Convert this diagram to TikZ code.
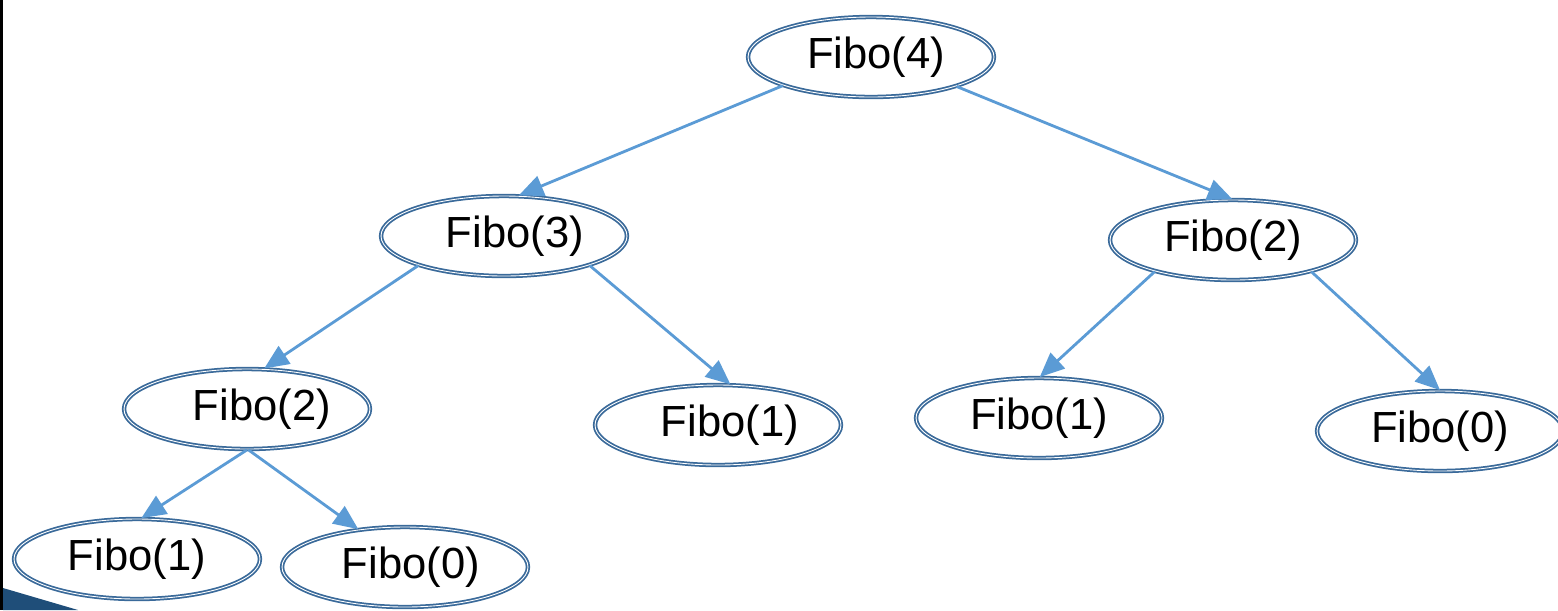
\documentclass[tikz,border=0pt]{standalone}
\usepackage{fontspec}
\setmainfont{Liberation Sans}
\usetikzlibrary{shapes.geometric,arrows.meta}
\definecolor{fiboline}{HTML}{3A6A9A}
\definecolor{fiboarrow}{HTML}{5B9BD5}
\definecolor{fibocorner}{HTML}{1F4E79}
\begin{document}
\begin{tikzpicture}[x=0.02cm,y=-0.02cm]
            \tikzstyle{every node}+=[inner sep=0pt]
            \tikzstyle{fibo}=[ellipse, draw=fiboline, double=white, double distance=0.5pt, line width=1pt, minimum width=4.92cm, minimum height=1.6cm, font=\fontsize{24.8}{29}\selectfont]
            \tikzstyle{call}=[draw=fiboarrow, line width=1.6pt, -{Triangle[length=14pt,width=12pt]}]
            \useasboundingbox (0,0) rectangle (1558,610);
            \fill [fibocorner] (3,588) -- (78,610) -- (3,610) -- cycle;
            \draw [black, line width=1.7pt] (1.5,0) -- (1.5,610);
            \node [fibo] (f4) at (871,57) {\hspace*{0.2cm}Fibo(4)};
            \node [fibo] (f3) at (504,236) {\hspace*{0.44cm}Fibo(3)};
            \node [fibo] (f2r) at (1233,240) {Fibo(2)};
            \node [fibo] (f2l) at (247,409) {\hspace*{0.6cm}Fibo(2)};
            \node [fibo] (f1m) at (718,425) {\hspace*{0.48cm}Fibo(1)};
            \node [fibo] (f1r) at (1039,418) {Fibo(1)};
            \node [fibo] (f0r) at (1440,431) {Fibo(0)};
            \node [fibo] (f1b) at (137,559) {Fibo(1)};
            \node [fibo] (f0b) at (405,567) {\hspace*{0.24cm}Fibo(0)};
            \draw [call] (f4.198) -- (f3.70);
            \draw [call] (f4.341) -- (f2r.91);
            \draw [call] (f3.199) -- (f2l.67);
            \draw [call] (f3.341) -- (f1m.73);
            \draw [call] (f2r.202) -- (f1r.89);
            \draw [call] (f2r.338) -- (f0r.90);
            \draw [call] (f2l.270) -- (f1b.84);
            \draw [call] (f2l.272) -- (f0b.141);
\end{tikzpicture}
\end{document}
